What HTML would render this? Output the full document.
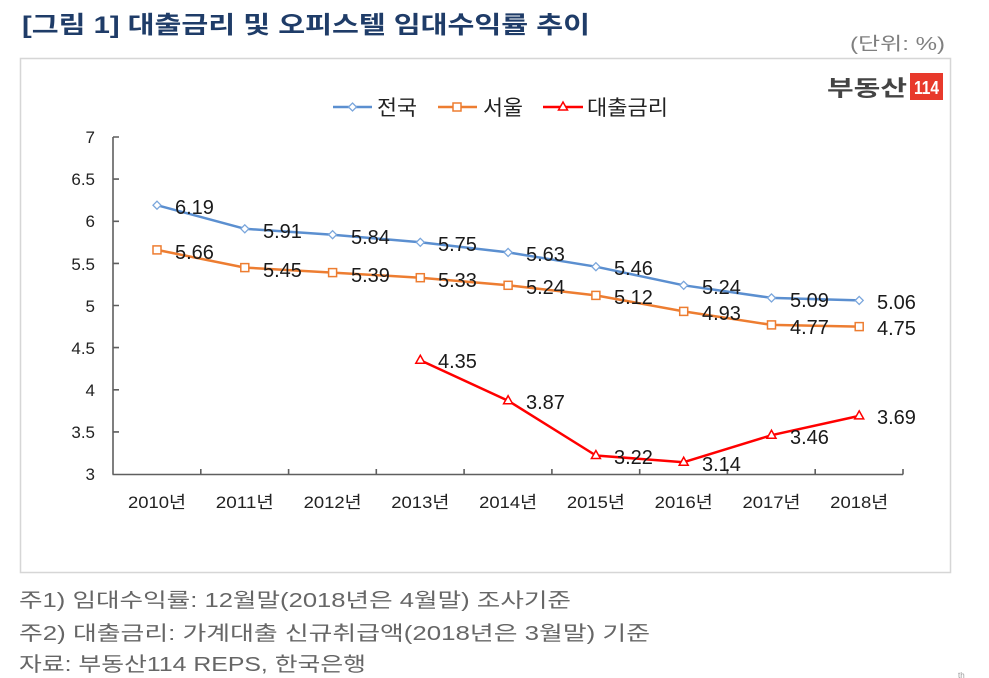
<!DOCTYPE html>
<html><head><meta charset="utf-8">
<style>
html,body{margin:0;padding:0;background:#fff;}
svg{display:block;}
text{font-family:"Liberation Sans","Noto Sans CJK KR",sans-serif;}
</style></head>
<body>
<svg width="989" height="678" viewBox="0 0 989 678" xmlns="http://www.w3.org/2000/svg">
<rect width="989" height="678" fill="#fff"/>
<!-- title -->
<text x="22" y="33" font-size="24" font-weight="bold" fill="#1f3c68" textLength="568" lengthAdjust="spacingAndGlyphs">[그림 1] 대출금리 및 오피스텔 임대수익률 추이</text>
<text x="945" y="50" font-size="18" fill="#7f7f7f" text-anchor="end" textLength="95" lengthAdjust="spacingAndGlyphs">(단위: %)</text>
<!-- box -->
<rect x="20.5" y="58.5" width="930" height="514" fill="#fff" stroke="#d6d6d6" stroke-width="1.5"/>
<!-- logo -->
<text x="827" y="96" font-size="22" font-weight="bold" fill="#444" textLength="80" lengthAdjust="spacingAndGlyphs">부동산</text>
<rect x="910" y="73" width="33" height="27" fill="#e8392b"/>
<text x="926.5" y="94" font-size="18" font-weight="bold" fill="#fff" text-anchor="middle" textLength="25" lengthAdjust="spacingAndGlyphs">114</text>
<!-- legend -->
<g stroke-width="2.5" fill="#fff">
<line x1="333" y1="107" x2="372" y2="107" stroke="#5b8fd0"/>
<path d="M352.5 103 L356.5 107 L352.5 111 L348.5 107 Z" stroke="#7aa6dc" stroke-width="1.3"/>
<line x1="438" y1="107" x2="477" y2="107" stroke="#ed7d31"/>
<rect x="453" y="103" width="8" height="8" stroke="#ed7d31" stroke-width="1.5"/>
<line x1="543" y1="107" x2="583" y2="107" stroke="#ff0000"/>
<path d="M563 102 L567.5 110 L558.5 110 Z" stroke="#ff0000" stroke-width="1.5"/>
</g>
<g font-size="21" fill="#222">
<text x="377" y="115" textLength="40" lengthAdjust="spacingAndGlyphs">전국</text>
<text x="483" y="115" textLength="40" lengthAdjust="spacingAndGlyphs">서울</text>
<text x="587" y="115" textLength="81" lengthAdjust="spacingAndGlyphs">대출금리</text>
</g>
<!-- axes -->
<g stroke="#5f5f5f" stroke-width="1.6" fill="none">
<line x1="113" y1="137" x2="113" y2="474.5"/>
<line x1="112.5" y1="474.5" x2="903" y2="474.5"/>
<path d="M113 137H119M113 179.1H119M113 221.3H119M113 263.4H119M113 305.5H119M113 347.6H119M113 389.8H119M113 431.9H119"/>
<path d="M200.8 474.5V469M288.6 474.5V469M376.3 474.5V469M464.1 474.5V469M551.9 474.5V469M639.7 474.5V469M727.4 474.5V469M815.2 474.5V469M903 474.5V469"/>
</g>
<!-- y labels -->
<g font-size="17" fill="#222" text-anchor="end">
<text x="95" y="143">7</text>
<text x="95" y="185">6.5</text>
<text x="95" y="227">6</text>
<text x="95" y="270">5.5</text>
<text x="95" y="312">5</text>
<text x="95" y="354">4.5</text>
<text x="95" y="396">4</text>
<text x="95" y="438">3.5</text>
<text x="95" y="480">3</text>
</g>
<!-- x labels -->
<g font-size="17" fill="#222" text-anchor="middle">
<text x="157" y="508" textLength="58" lengthAdjust="spacingAndGlyphs">2010년</text>
<text x="244.8" y="508" textLength="58" lengthAdjust="spacingAndGlyphs">2011년</text>
<text x="332.6" y="508" textLength="58" lengthAdjust="spacingAndGlyphs">2012년</text>
<text x="420.3" y="508" textLength="58" lengthAdjust="spacingAndGlyphs">2013년</text>
<text x="508.1" y="508" textLength="58" lengthAdjust="spacingAndGlyphs">2014년</text>
<text x="595.9" y="508" textLength="58" lengthAdjust="spacingAndGlyphs">2015년</text>
<text x="683.7" y="508" textLength="58" lengthAdjust="spacingAndGlyphs">2016년</text>
<text x="771.5" y="508" textLength="58" lengthAdjust="spacingAndGlyphs">2017년</text>
<text x="859.2" y="508" textLength="58" lengthAdjust="spacingAndGlyphs">2018년</text>
</g>
<!-- series lines -->
<polyline fill="none" stroke="#5b8fd0" stroke-width="2.5" stroke-linejoin="round" points="157,205.2 244.8,228.8 332.6,234.7 420.3,242.3 508.1,252.4 595.9,266.7 683.7,285.3 771.5,297.9 859.2,300.4"/>
<polyline fill="none" stroke="#ed7d31" stroke-width="2.5" stroke-linejoin="round" points="157,249.9 244.8,267.6 332.6,272.6 420.3,277.7 508.1,285.3 595.9,295.4 683.7,311.4 771.5,324.9 859.2,326.6"/>
<polyline fill="none" stroke="#ff0000" stroke-width="2.5" stroke-linejoin="round" points="420.3,360.3 508.1,400.7 595.9,455.5 683.7,462.2 771.5,435.2 859.2,415.9"/>
<!-- markers -->
<g fill="#fff" stroke="#7aa6dc" stroke-width="1.3">
<path d="M157 201.2l4 4l-4 4l-4-4z"/>
<path d="M244.8 224.8l4 4l-4 4l-4-4z"/>
<path d="M332.6 230.7l4 4l-4 4l-4-4z"/>
<path d="M420.3 238.3l4 4l-4 4l-4-4z"/>
<path d="M508.1 248.4l4 4l-4 4l-4-4z"/>
<path d="M595.9 262.7l4 4l-4 4l-4-4z"/>
<path d="M683.7 281.3l4 4l-4 4l-4-4z"/>
<path d="M771.5 293.9l4 4l-4 4l-4-4z"/>
<path d="M859.2 296.4l4 4l-4 4l-4-4z"/>
</g>
<g fill="#fff" stroke="#ed7d31" stroke-width="1.5">
<rect x="153" y="245.9" width="8" height="8"/>
<rect x="240.8" y="263.6" width="8" height="8"/>
<rect x="328.6" y="268.6" width="8" height="8"/>
<rect x="416.3" y="273.7" width="8" height="8"/>
<rect x="504.1" y="281.3" width="8" height="8"/>
<rect x="591.9" y="291.4" width="8" height="8"/>
<rect x="679.7" y="307.4" width="8" height="8"/>
<rect x="767.5" y="320.9" width="8" height="8"/>
<rect x="855.2" y="322.6" width="8" height="8"/>
</g>
<g fill="#fff" stroke="#ff0000" stroke-width="1.5">
<path d="M420.3 355.3l4.5 8h-9z"/>
<path d="M508.1 395.7l4.5 8h-9z"/>
<path d="M595.9 450.5l4.5 8h-9z"/>
<path d="M683.7 457.2l4.5 8h-9z"/>
<path d="M771.5 430.2l4.5 8h-9z"/>
<path d="M859.2 410.9l4.5 8h-9z"/>
</g>
<!-- data labels -->
<g font-size="20" fill="#1a1a1a">
<text x="175" y="214">6.19</text>
<text x="263" y="238">5.91</text>
<text x="351" y="244">5.84</text>
<text x="438" y="251">5.75</text>
<text x="526" y="261">5.63</text>
<text x="614" y="275">5.46</text>
<text x="702" y="294">5.24</text>
<text x="790" y="307">5.09</text>
<text x="877" y="309">5.06</text>
<text x="175" y="259">5.66</text>
<text x="263" y="277">5.45</text>
<text x="351" y="282">5.39</text>
<text x="438" y="287">5.33</text>
<text x="526" y="294">5.24</text>
<text x="614" y="304">5.12</text>
<text x="702" y="320">4.93</text>
<text x="790" y="334">4.77</text>
<text x="877" y="335">4.75</text>
<text x="438" y="368">4.35</text>
<text x="526" y="409">3.87</text>
<text x="614" y="464">3.22</text>
<text x="702" y="471">3.14</text>
<text x="790" y="444">3.46</text>
<text x="877" y="424">3.69</text>
</g>
<!-- footer -->
<g font-size="20" fill="#666">
<text x="19" y="607" textLength="552" lengthAdjust="spacingAndGlyphs">주1) 임대수익률: 12월말(2018년은 4월말) 조사기준</text>
<text x="19" y="640" textLength="631" lengthAdjust="spacingAndGlyphs">주2) 대출금리: 가계대출 신규취급액(2018년은 3월말) 기준</text>
<text x="19" y="671" textLength="347" lengthAdjust="spacingAndGlyphs">자료: 부동산114 REPS, 한국은행</text>
</g>
<text x="958" y="678" font-size="8" fill="#999">th</text>
</svg>
</body></html>
